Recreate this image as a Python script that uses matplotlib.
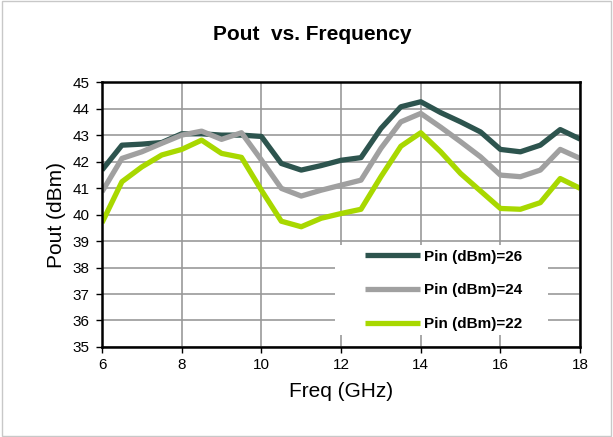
import matplotlib.pyplot as plt

freq = [6, 6.5, 7, 7.5, 8, 8.5, 9, 9.5, 10, 10.5, 11, 11.5, 12,
        12.5, 13, 13.5, 14, 14.5, 15, 15.5, 16, 16.5, 17, 17.5, 18]
pout_26 = [41.68, 42.62, 42.66, 42.72, 43.05, 43.05, 43.0, 43.0, 42.95, 41.93, 41.68, 41.85, 42.05,
           42.15, 43.25, 44.07, 44.26, 43.85, 43.5, 43.12, 42.46, 42.37, 42.62, 43.21, 42.85]
pout_24 = [40.86, 42.12, 42.37, 42.69, 43.0, 43.15, 42.84, 43.09, 42.06, 40.99, 40.7, 40.92, 41.11,
           41.3, 42.5, 43.5, 43.82, 43.3, 42.75, 42.18, 41.49, 41.43, 41.68, 42.46, 42.12]
pout_22 = [39.69, 41.24, 41.8, 42.25, 42.46, 42.81, 42.31, 42.16, 40.92, 39.75, 39.54, 39.86, 40.04,
           40.2, 41.43, 42.58, 43.09, 42.37, 41.55, 40.89, 40.23, 40.2, 40.45, 41.36, 40.99]

series = [("Pin (dBm)=26", pout_26, "#2d544e"),
          ("Pin (dBm)=24", pout_24, "#a0a0a0"),
          ("Pin (dBm)=22", pout_22, "#a8d800")]

plt.rcParams["font.family"] = ["Liberation Sans", "DejaVu Sans"]

fig = plt.figure(figsize=(6.13, 4.37), dpi=100)
# light outer frame of the chart area
fig.patches.append(plt.Rectangle((0.003, 0.003), 0.994, 0.994, transform=fig.transFigure,
                                 fill=False, edgecolor="#c8c8c8", linewidth=1))
ax = fig.add_axes([0.1664, 0.206, 0.780, 0.606])

for label, vals, color in series:
    ax.plot(freq, vals, color=color, linewidth=3.8, label=label, solid_capstyle="butt")

ax.set_xlim(6, 18)
ax.set_ylim(35, 45)
ax.set_xticks(range(6, 19, 2))
ax.set_yticks(range(35, 46))
ax.grid(True, color="#999999", linewidth=1.2)
ax.set_axisbelow(True)
for s in ax.spines.values():
    s.set_color("black")
    s.set_linewidth(1.8)
ax.tick_params(direction="out", length=4, width=1, labelsize=11)
ax.tick_params(axis="x", pad=4)
ax.tick_params(axis="y", pad=5)

fig.text(0.509, 0.92, "Pout  vs. Frequency", fontsize=15, fontweight="bold",
         ha="center", va="center")
ax.set_xlabel("Freq (GHz)", fontsize=15, labelpad=7)
ax.set_ylabel("Pout (dBm)", fontsize=15, labelpad=5)

# white legend area, as in the original chart
ax.add_patch(plt.Rectangle((0.487, 0.045), 0.446, 0.34, transform=ax.transAxes,
                           facecolor="white", edgecolor="none", zorder=1.5))
leg = ax.legend(loc="upper left", bbox_to_anchor=(0.55, 0.368), frameon=False,
                prop={"weight": "bold", "size": 11}, borderpad=0, borderaxespad=0,
                handlelength=3.6, handletextpad=0.25, labelspacing=1.3)

plt.savefig("out.png", dpi=100)
plt.close()
